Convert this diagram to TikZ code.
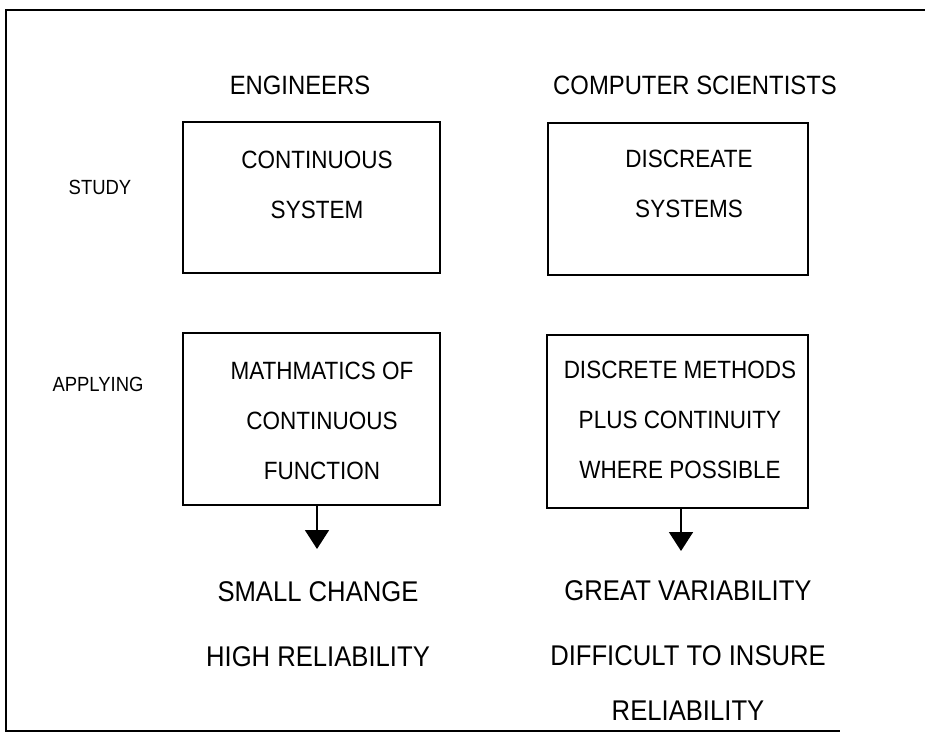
\documentclass[tikz,border=0pt]{standalone}
\usepackage{fontspec}
\setmainfont{Liberation Sans}
\newfontfamily\narrowsf[FakeStretch=0.9]{Liberation Sans}
\usetikzlibrary{arrows.meta,positioning,calc}
\tikzset{box/.style={draw,line width=1.6pt,minimum width=257pt,minimum height=151pt,inner sep=0pt},boxtxt/.style={align=center,font=\narrowsf\fontsize{25}{50}\selectfont,inner sep=0pt},arr/.style={-{Triangle[length=19pt,width=24pt]},line width=1.8pt}}
\begin{document}
\begin{tikzpicture}[x=1pt,y=-1pt,head/.style={font=\narrowsf\fontsize{26.5}{30}\selectfont,inner sep=0pt},side/.style={font=\narrowsf\fontsize{20.5}{22}\selectfont,inner sep=0pt},res/.style={align=center,font=\narrowsf\fontsize{28.5}{65}\selectfont,inner sep=0pt}]
\useasboundingbox (0,0) rectangle (925,733);
\draw[line width=2.4pt] (925,10) -- (6,10) -- (6,731) -- (840,731);
\node[head] (eng) at (300,85) {ENGINEERS};
\node[head] (cs) at (695,85) {COMPUTER SCIENTISTS};
\node[side] (study) at (100,187) {STUDY};
\node[side] (apply) at (98,384) {APPLYING};
% study row
\node[box] (cont) at (311.5,197.5) {};
\node[box,minimum width=260pt,minimum height=152pt] (disc) at (678,199) {};
\node[boxtxt] (contT) at (317,185) {CONTINUOUS\\SYSTEM};
\node[boxtxt] (discT) at (689,184) {DISCREATE\\SYSTEMS};
% applying row
\node[box,minimum height=172pt] (math) at (311.5,419) {};
\node[box,minimum width=261pt,minimum height=173pt] (meth) at (677.5,421.5) {};
\node[boxtxt] (mathT) at (322,421) {MATHMATICS OF\\CONTINUOUS\\FUNCTION};
\node[boxtxt] (methT) at (680,420) {DISCRETE METHODS\\PLUS CONTINUITY\\WHERE POSSIBLE};
% results
\coordinate (e1) at (317,549);
\coordinate (e2) at (681,551);
\draw[arr] (e1 |- math.south) -- (e1);
\draw[arr] (e2 |- meth.south) -- (e2);
\node[res] (small) at (318,624) {SMALL CHANGE\\HIGH RELIABILITY};
\node[res] (great) at (688,651) {GREAT VARIABILITY\\DIFFICULT TO INSURE\\[-10pt]RELIABILITY};
\end{tikzpicture}
\end{document}
